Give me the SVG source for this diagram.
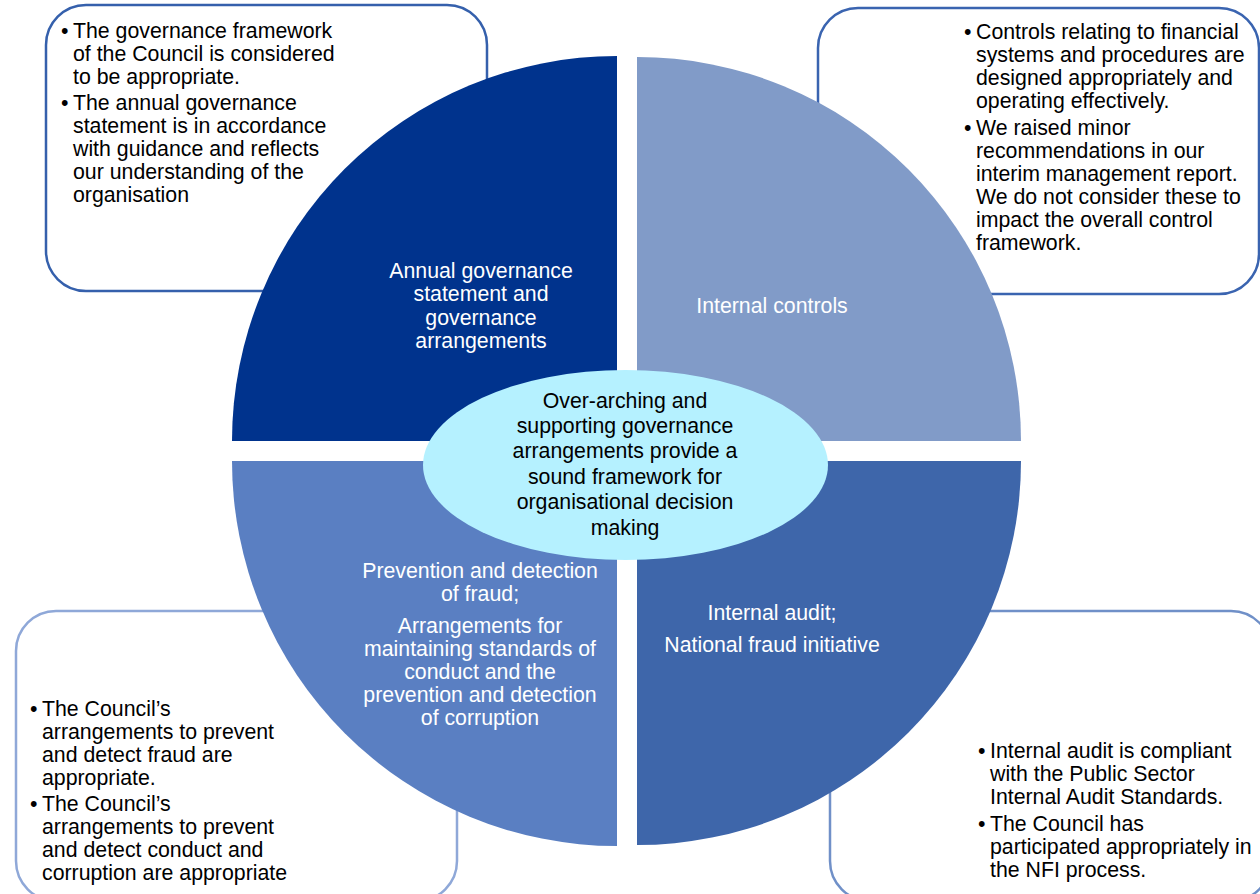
<svg xmlns="http://www.w3.org/2000/svg" width="1260" height="894" viewBox="0 0 1260 894">
<style>
text{font-family:"Liberation Sans",Arial,sans-serif;font-size:21.3px}
.b{fill:#000}
.w{fill:#fff;text-anchor:middle}
.c{fill:#000;text-anchor:middle}
.box{fill:#fff;stroke-width:2.5}
</style>
<rect width="1260" height="894" fill="#fff"/>
<g id="box-tl">
<rect class="box" x="46" y="5" width="441" height="286" rx="40" stroke="#3560AC"/>
<text class="b" x="61" y="38">•</text><text class="b" x="73" y="38">The governance framework</text>
<text class="b" x="73" y="61">of the Council is considered</text>
<text class="b" x="73" y="84">to be appropriate.</text>
<text class="b" x="61" y="110">•</text><text class="b" x="73" y="110">The annual governance</text>
<text class="b" x="73" y="133">statement is in accordance</text>
<text class="b" x="73" y="156">with guidance and reflects</text>
<text class="b" x="73" y="179">our understanding of the</text>
<text class="b" x="73" y="202">organisation</text>
</g>
<g id="box-tr">
<rect class="box" x="818" y="8" width="441" height="286" rx="40" stroke="#3A64B0"/>
<text class="b" x="964" y="39">•</text><text class="b" x="976" y="39">Controls relating to financial</text>
<text class="b" x="976" y="62">systems and procedures are</text>
<text class="b" x="976" y="85">designed appropriately and</text>
<text class="b" x="976" y="108">operating effectively.</text>
<text class="b" x="964" y="135">•</text><text class="b" x="976" y="135">We raised minor</text>
<text class="b" x="976" y="158">recommendations in our</text>
<text class="b" x="976" y="181">interim management report.</text>
<text class="b" x="976" y="204">We do not consider these to</text>
<text class="b" x="976" y="227">impact the overall control</text>
<text class="b" x="976" y="250">framework.</text>
</g>
<g id="box-bl">
<rect class="box" x="16" y="611" width="441" height="290" rx="40" stroke="#8FA8D8"/>
<text class="b" x="30" y="716">•</text><text class="b" x="42" y="716">The Council’s</text>
<text class="b" x="42" y="739">arrangements to prevent</text>
<text class="b" x="42" y="762">and detect fraud are</text>
<text class="b" x="42" y="785">appropriate.</text>
<text class="b" x="30" y="811">•</text><text class="b" x="42" y="811">The Council’s</text>
<text class="b" x="42" y="834">arrangements to prevent</text>
<text class="b" x="42" y="857">and detect conduct and</text>
<text class="b" x="42" y="880">corruption are appropriate</text>
</g>
<g id="box-br">
<rect class="box" x="830" y="611" width="441" height="290" rx="40" stroke="#7090C8"/>
<text class="b" x="978" y="758">•</text><text class="b" x="990" y="758">Internal audit is compliant</text>
<text class="b" x="990" y="781">with the Public Sector</text>
<text class="b" x="990" y="804">Internal Audit Standards.</text>
<text class="b" x="978" y="831">•</text><text class="b" x="990" y="831">The Council has</text>
<text class="b" x="990" y="854">participated appropriately in</text>
<text class="b" x="990" y="877">the NFI process.</text>
</g>
<g id="quad-tl">
<path d="M617 441 L232 441 A385 385 0 0 1 617 56 Z" fill="#00338D"/>
<text class="w" x="481" y="278">Annual governance</text>
<text class="w" x="481" y="301">statement and</text>
<text class="w" x="481" y="325">governance</text>
<text class="w" x="481" y="348">arrangements</text>
</g>
<g id="quad-tr">
<path d="M637 441 L637 57 A384 384 0 0 1 1021 441 Z" fill="#819BC8"/>
<text class="w" x="772" y="313">Internal controls</text>
</g>
<g id="quad-bl">
<path d="M617 461 L617 846 A385 385 0 0 1 232 461 Z" fill="#5A7FC2"/>
<text class="w" x="480" y="578">Prevention and detection</text>
<text class="w" x="480" y="601">of fraud;</text>
<text class="w" x="480" y="633">Arrangements for</text>
<text class="w" x="480" y="656">maintaining standards of</text>
<text class="w" x="480" y="679">conduct and the</text>
<text class="w" x="480" y="702">prevention and detection</text>
<text class="w" x="480" y="725">of corruption</text>
</g>
<g id="quad-br">
<path d="M637 461 L1021 461 A384 384 0 0 1 637 845 Z" fill="#3E66AA"/>
<text class="w" x="772" y="620">Internal audit;</text>
<text class="w" x="772" y="652">National fraud initiative</text>
</g>
<g id="center">
<ellipse cx="625.5" cy="465" rx="202.5" ry="95" fill="#B5F1FF"/>
<text class="c" x="625" y="408">Over-arching and</text>
<text class="c" x="625" y="433">supporting governance</text>
<text class="c" x="625" y="458">arrangements provide a</text>
<text class="c" x="625" y="484">sound framework for</text>
<text class="c" x="625" y="509">organisational decision</text>
<text class="c" x="625" y="535">making</text>
</g>
<g id="connectors"/>
</svg>
